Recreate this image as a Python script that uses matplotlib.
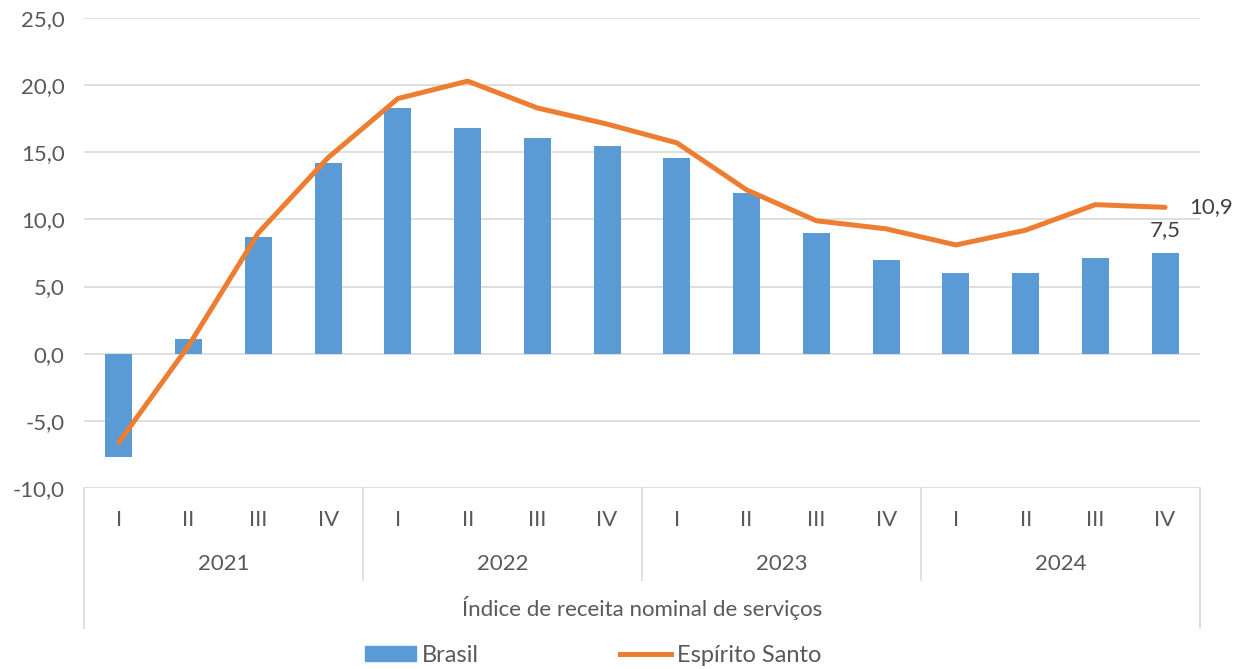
import matplotlib.pyplot as plt
from matplotlib.patches import Patch
from matplotlib.lines import Line2D
import matplotlib.transforms as mtransforms

# DATA
quarters = ['I', 'II', 'III', 'IV'] * 4
years = ['2021', '2022', '2023', '2024']
brasil = [-7.7, 1.1, 8.7, 14.2, 18.3, 16.8, 16.1, 15.5, 14.6, 12.0, 9.0, 7.0, 6.0, 6.0, 7.1, 7.5]
espirito_santo = [-6.6, 0.6, 9.0, 14.6, 19.0, 20.3, 18.3, 17.1, 15.7, 12.2, 9.9, 9.3, 8.1, 9.2, 11.1, 10.9]
yticks = [-10, -5, 0, 5, 10, 15, 20, 25]
axis_title = 'Índice de receita nominal de serviços'

plt.rcParams['font.family'] = ['Lato', 'DejaVu Sans']
TXT = '#595959'
GRID = '#D9D9D9'
FS = 16

fig = plt.figure(figsize=(12.41, 6.69), dpi=100)
ax = fig.add_axes([84/1241, 1-488/669, 1116/1241, 470/669])

x = [i + 0.5 for i in range(len(brasil))]
ax.bar(x, brasil, width=0.39, color='#5B9BD5', zorder=2)
ax.plot(x, espirito_santo, color='#ED7D31', lw=3.6, solid_capstyle='round', zorder=3)

ax.set_xlim(0, 16)
ax.set_ylim(-10, 25)
ax.set_yticks(yticks)
ax.set_yticklabels([f'{v:.1f}'.replace('.', ',') for v in yticks], color=TXT, fontsize=FS)
ax.tick_params(axis='y', length=0, pad=14)
ax.set_xticks([])
ax.grid(axis='y', color=GRID, lw=1.2, zorder=0)
for s in ax.spines.values():
    s.set_visible(False)

# data labels
ax.text(x[-1] + 0.34, espirito_santo[-1], '10,9', color='#404040', fontsize=FS, va='center', ha='left')
ax.text(x[-1], brasil[-1] + 0.95, '7,5', color='#404040', fontsize=FS, va='bottom', ha='center')

# hierarchical category axis
tr = mtransforms.blended_transform_factory(ax.transData, ax.transAxes)
for xi, q in zip(x, quarters):
    ax.text(xi, -0.068, q, transform=tr, ha='center', va='center', color=TXT, fontsize=FS, clip_on=False)
for i, yr in enumerate(years):
    ax.text(i * 4 + 2, -0.162, yr, transform=tr, ha='center', va='center', color=TXT, fontsize=FS, clip_on=False)
for xs in [4, 8, 12]:
    ax.add_line(Line2D([xs, xs], [0, -0.196], transform=tr, color=GRID, lw=1.2, clip_on=False))
for xs in [0, 16]:
    ax.add_line(Line2D([xs, xs], [0, -0.298], transform=tr, color=GRID, lw=1.2, clip_on=False))
ax.text(8, -0.255, axis_title, transform=tr, ha='center', va='center', color=TXT, fontsize=FS, clip_on=False)

# legend
handles = [Patch(color='#5B9BD5', label='Brasil'),
           Line2D([], [], color='#ED7D31', lw=3.6, label='Espírito Santo')]
fig.legend(handles=handles, loc='center', bbox_to_anchor=(593/1241, 1-655/669), ncol=2,
           frameon=False, fontsize=17, labelcolor=TXT, handlelength=2.15, handleheight=0.6,
           handletextpad=0.25, columnspacing=6.0, borderpad=0)

fig.savefig('out.png', dpi=100)
